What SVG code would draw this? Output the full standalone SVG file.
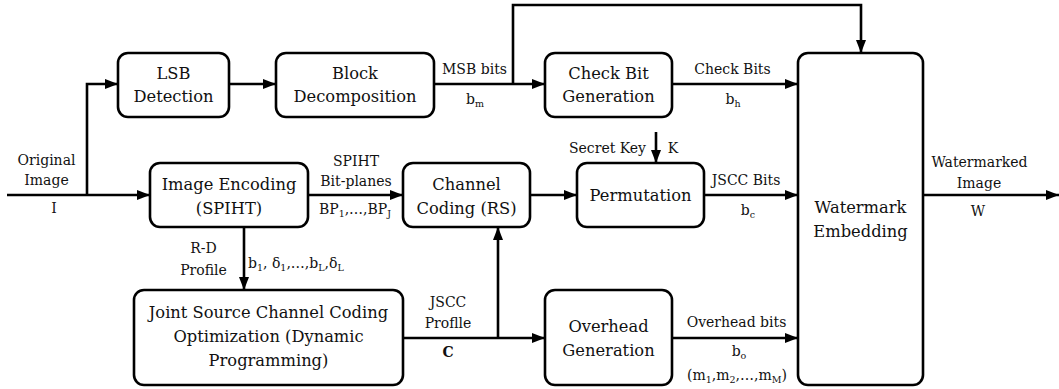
<svg xmlns="http://www.w3.org/2000/svg" width="1059" height="389" viewBox="0 0 1059 389">
  <style>
    .box { fill: #fff; stroke: #000; stroke-width: 2.6; }
    text { font-family: "DejaVu Serif", serif; fill: #111; text-anchor: middle; }
    .t { font-size: 16.3px; }
    .l { font-size: 14px; }
    .s { font-size: 9.5px; }
    .w { fill: none; stroke: #000; stroke-width: 2.6; }
  </style>
  <defs>
    <marker id="arr" viewBox="0 0 13 10" refX="13" refY="5" markerWidth="13" markerHeight="10" markerUnits="userSpaceOnUse" orient="auto">
      <path d="M0,0 L13,5 L0,10 Z" fill="#000"/>
    </marker>
  </defs>
  <rect width="1059" height="389" fill="#fff"/>

  <!-- connectors -->
  <g id="connectors" class="w">
    <path d="M7,195 H150" marker-end="url(#arr)"/>
    <path d="M87,195 V84 H118" marker-end="url(#arr)"/>
    <path d="M229,84 H276" marker-end="url(#arr)"/>
    <path d="M434,84 H545" marker-end="url(#arr)"/>
    <path d="M513,84 V5 H861 V53" marker-end="url(#arr)"/>
    <path d="M672,84 H798" marker-end="url(#arr)"/>
    <path d="M308,195 H403" marker-end="url(#arr)"/>
    <path d="M530,195 H577" marker-end="url(#arr)"/>
    <path d="M704,195 H798" marker-end="url(#arr)"/>
    <path d="M923,195 H1059" marker-end="url(#arr)"/>
    <path d="M656,132 V163" marker-end="url(#arr)"/>
    <path d="M244,227 V290" marker-end="url(#arr)"/>
    <path d="M403,338 H545" marker-end="url(#arr)"/>
    <path d="M498,338 V227" marker-end="url(#arr)"/>
    <path d="M672,338 H798" marker-end="url(#arr)"/>
  </g>

  <!-- nodes -->
  <g id="lsb">
    <rect class="box" x="118" y="53" width="111" height="64" rx="10"/>
    <text class="t" x="173.5" y="79">LSB</text>
    <text class="t" x="173.5" y="102">Detection</text>
  </g>
  <g id="block">
    <rect class="box" x="276" y="53" width="158" height="64" rx="10"/>
    <text class="t" x="355" y="79">Block</text>
    <text class="t" x="355" y="102">Decomposition</text>
  </g>
  <g id="checkbit">
    <rect class="box" x="545" y="53" width="127" height="64" rx="10"/>
    <text class="t" x="608.5" y="79">Check Bit</text>
    <text class="t" x="608.5" y="102">Generation</text>
  </g>
  <g id="watermark">
    <rect class="box" x="798" y="53" width="125" height="332" rx="10"/>
    <text class="t" x="860.5" y="213">Watermark</text>
    <text class="t" x="860.5" y="237">Embedding</text>
  </g>
  <g id="encoding">
    <rect class="box" x="150" y="163" width="158" height="64" rx="10"/>
    <text class="t" x="229" y="190">Image Encoding</text>
    <text class="t" x="229" y="214">(SPIHT)</text>
  </g>
  <g id="channel">
    <rect class="box" x="403" y="163" width="127" height="64" rx="10"/>
    <text class="t" x="466.5" y="190">Channel</text>
    <text class="t" x="466.5" y="214">Coding (RS)</text>
  </g>
  <g id="permutation">
    <rect class="box" x="577" y="163" width="127" height="64" rx="10"/>
    <text class="t" x="640.5" y="201">Permutation</text>
  </g>
  <g id="jscc">
    <rect class="box" x="134" y="290" width="269" height="95" rx="10"/>
    <text class="t" x="268.5" y="318">Joint Source Channel Coding</text>
    <text class="t" x="268.5" y="342">Optimization (Dynamic</text>
    <text class="t" x="268.5" y="366">Programming)</text>
  </g>
  <g id="overhead">
    <rect class="box" x="545" y="290" width="127" height="95" rx="10"/>
    <text class="t" x="608.5" y="332">Overhead</text>
    <text class="t" x="608.5" y="356">Generation</text>
  </g>

  <!-- connector labels -->
  <g id="labels">
    <text class="l" x="46.5" y="165">Original</text>
    <text class="l" x="46.5" y="185">Image</text>
    <text class="l" x="54" y="213">I</text>

    <text class="l" x="474.5" y="74">MSB bits</text>
    <text class="l" x="475" y="104">b<tspan class="s" dy="3">m</tspan></text>

    <text class="l" x="732.5" y="74">Check Bits</text>
    <text class="l" x="733" y="104">b<tspan class="s" dy="3">h</tspan></text>

    <text class="l" x="979.5" y="167">Watermarked</text>
    <text class="l" x="979" y="188">Image</text>
    <text class="l" x="978" y="216">W</text>

    <text class="l" x="356" y="166">SPIHT</text>
    <text class="l" x="356" y="186">Bit-planes</text>
    <text class="l" x="355" y="214">BP<tspan class="s" dy="3">1</tspan><tspan dy="-3">,…,BP</tspan><tspan class="s" dy="3">J</tspan></text>

    <text class="l" x="607.5" y="153">Secret Key</text>
    <text class="l" x="673" y="153">K</text>

    <text class="l" x="746" y="185">JSCC Bits</text>
    <text class="l" x="748" y="215">b<tspan class="s" dy="3">c</tspan></text>

    <text class="l" x="203.5" y="253">R-D</text>
    <text class="l" x="203.5" y="275">Profile</text>
    <text class="l" x="248" y="268" style="text-anchor:start">b<tspan class="s" dy="3">1</tspan><tspan dy="-3">, δ</tspan><tspan class="s" dy="3">1</tspan><tspan dy="-3">,…,b</tspan><tspan class="s" dy="3">L</tspan><tspan dy="-3">,δ</tspan><tspan class="s" dy="3">L</tspan></text>

    <text class="l" x="448" y="307">JSCC</text>
    <text class="l" x="448" y="328">Proflle</text>
    <text class="l" x="448" y="357" font-weight="bold">C</text>

    <text class="l" x="736.5" y="327">Overhead bits</text>
    <text class="l" x="739" y="356">b<tspan class="s" dy="3">o</tspan></text>
    <text class="l" x="737" y="380">(m<tspan class="s" dy="3">1</tspan><tspan dy="-3">,m</tspan><tspan class="s" dy="3">2</tspan><tspan dy="-3">,…,m</tspan><tspan class="s" dy="3">M</tspan><tspan dy="-3">)</tspan></text>
  </g>
</svg>
